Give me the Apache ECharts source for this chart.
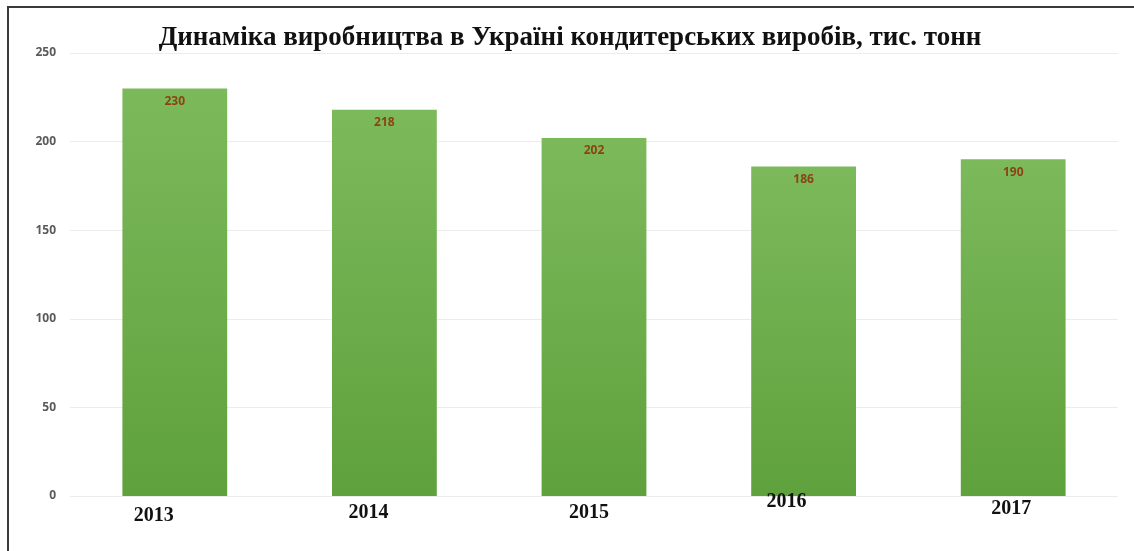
<!DOCTYPE html>
<html>
<head>
<meta charset="utf-8">
<script src="https://cdn.jsdelivr.net/npm/echarts@6/dist/echarts.min.js"></script>
<style>
  html, body { margin: 0; padding: 0; background: #fff; }
  #frame {
    position: absolute; left: 7px; top: 6px; width: 1140px; height: 560px;
    border-left: 2px solid #3a3a3a; border-top: 2px solid #3a3a3a;
  }
  #chart { position: absolute; left: 0; top: 0; width: 1134px; height: 551px; }
</style>
</head>
<body>
<div id="frame"></div>
<div id="chart"></div>
<script>
// Production of confectionery in Ukraine, thousand tonnes
const years = ['2013', '2014', '2015', '2016', '2017'];
const production = [230, 218, 202, 186, 190];
const yTicks = [0, 50, 100, 150, 200, 250];

// slightly uneven placement of the year captions under the bars (px)
const yearOffsets = [
  { dx: -21, dy: 16 },
  { dx: -16, dy: 13 },
  { dx: -5, dy: 13 },
  { dx: -17, dy: 2 },
  { dx: -2, dy: 9 }
];

const chart = echarts.init(document.getElementById('chart'), null, { renderer: 'canvas' });

chart.setOption({
  animation: false,
  title: {
    text: 'Динаміка виробництва в Україні кондитерських виробів, тис. тонн',
    left: 565,
    top: 20,
    textAlign: 'center',
    textStyle: {
      fontFamily: '"Liberation Serif", "DejaVu Serif", serif',
      fontWeight: 'bold',
      fontSize: 27,
      color: '#111'
    }
  },
  grid: { left: 70, right: 16, top: 53, bottom: 55, containLabel: false },
  xAxis: {
    type: 'category',
    z: 5,
    data: years.map((y, i) => ({
      value: y,
      textStyle: {
        padding: [
          yearOffsets[i].dy, Math.max(0, -2 * yearOffsets[i].dx),
          0, Math.max(0, 2 * yearOffsets[i].dx)
        ]
      }
    })),
    axisLine: { show: false },
    axisTick: { show: false },
    axisLabel: {
      margin: -6,
      fontFamily: '"Liberation Serif", "DejaVu Serif", serif',
      fontWeight: 'bold',
      fontSize: 20,
      color: '#111'
    }
  },
  yAxis: {
    type: 'value',
    min: yTicks[0],
    max: yTicks[yTicks.length - 1],
    interval: 50,
    axisLine: { show: false },
    axisTick: { show: false },
    splitLine: { lineStyle: { color: '#ececec', width: 1 } },
    axisLabel: {
      margin: 14,
      fontFamily: '"Open Sans", "Liberation Sans", sans-serif',
      fontWeight: 'bold',
      fontSize: 12,
      color: '#5a5a5a'
    }
  },
  series: [{
    type: 'bar',
    data: production,
    barWidth: '50%',
    itemStyle: {
      color: new echarts.graphic.LinearGradient(0, 0, 0, 1, [
        { offset: 0, color: '#7cb95b' },
        { offset: 1, color: '#5fa13c' }
      ])
    },
    label: {
      show: true,
      position: 'insideTop',
      distance: 7,
      fontFamily: '"Open Sans", "Liberation Sans", sans-serif',
      fontWeight: 'bold',
      fontSize: 12,
      color: '#8a4316'
    }
  }]
});
</script>
</body>
</html>
